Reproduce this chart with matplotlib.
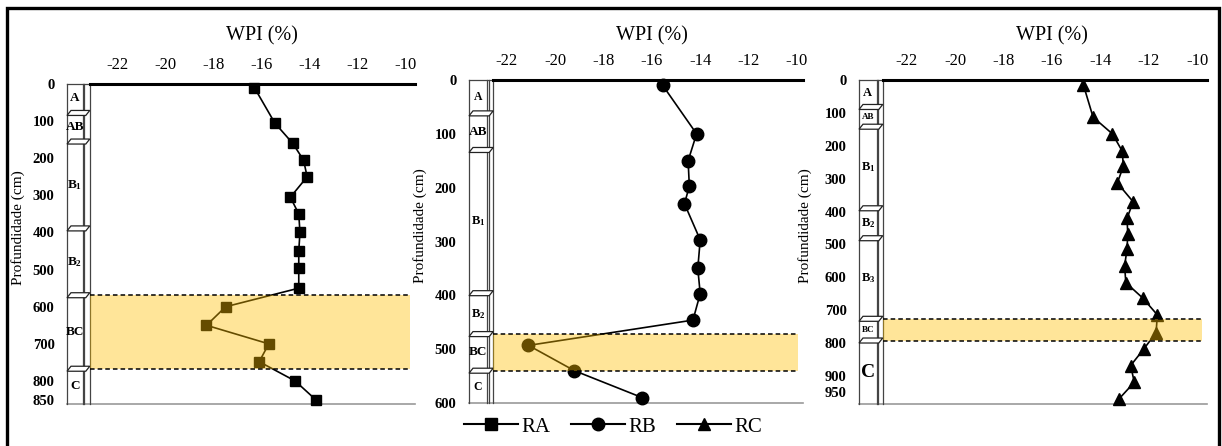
import matplotlib
matplotlib.use('Agg')
import matplotlib.pyplot as plt
import matplotlib.transforms as mtransforms
from matplotlib.patches import Polygon, Rectangle
from matplotlib.lines import Line2D

plt.rcParams['font.family'] = 'Liberation Serif'
plt.rcParams['mathtext.default'] = 'regular'
plt.rcParams['axes.unicode_minus'] = False

# WPI profiles (depth in cm, WPI in %)
ra_depth = [10, 105, 160, 205, 250, 305, 350, 400, 450, 495, 550, 600, 650, 700, 748, 800, 850]
ra_wpi = [-16.3, -15.45, -14.7, -14.25, -14.1, -14.8, -14.45, -14.4, -14.45, -14.45,
          -14.45, -17.5, -18.3, -15.7, -16.1, -14.6, -13.75]

rb_depth = [10, 100, 150, 197, 230, 297, 350, 397, 446, 493, 540, 590]
rb_wpi = [-15.55, -14.15, -14.5, -14.45, -14.65, -14.0, -14.1, -14.0, -14.3, -21.1, -19.2, -16.4]

rc_depth = [15, 113, 164, 216, 262, 313, 370, 421, 467, 514, 565, 616, 663, 714, 768,
            817, 868, 919, 971]
rc_wpi = [-14.7, -14.3, -13.5, -13.1, -13.05, -13.3, -12.65, -12.9, -12.87, -12.9, -13.0,
          -12.95, -12.25, -11.65, -11.7, -12.2, -12.75, -12.6, -13.25]

# soil horizons: boundaries (cm) and names
ra_bounds = [0, 78, 155, 389, 569, 767, 862]
ra_names = ['A', 'AB', 'B$_1$', 'B$_2$', 'BC', 'C']
rb_bounds = [0, 62, 130, 396, 472, 540, 600]
rb_names = ['A', 'AB', 'B$_1$', 'B$_2$', 'BC', 'C']
rc_bounds = [0, 82, 142, 390, 481, 726, 792, 985]
rc_names = ['A', 'AB', 'B$_1$', 'B$_2$', 'B$_3$', 'BC', 'C']

ra_yticks = [0, 100, 200, 300, 400, 500, 600, 700, 800, 850]
rb_yticks = [0, 100, 200, 300, 400, 500, 600]
rc_yticks = [0, 100, 200, 300, 400, 500, 600, 700, 800, 900, 950]
xticks = [-22, -20, -18, -16, -14, -12, -10]

W, H = 1222, 446
fig = plt.figure(figsize=(W / 100, H / 100), dpi=100)

# outer frame
fig.patches.append(Rectangle((7 / W, -0.05), (1219 - 7) / W, 1.05 - 8 / H,
                             transform=fig.transFigure, fill=False,
                             edgecolor='black', linewidth=2.4))

panels = [
    # px box (left, top, right, bottom), xlim, column edges, data, marker
    dict(box=(67, 84, 415, 404), xlim=(-24.12, -9.6), col=(-23.46, -23.17),
         depth=ra_depth, wpi=ra_wpi, marker='s', ms=6.5, label='RA',
         bounds=ra_bounds, names=ra_names, band=(4, 5), yticks=ra_yticks,
         fs=[9.5, 9.5, 9.5, 9.5, 9.5, 9.5], ylab_x=-0.12),
    dict(box=(469, 80, 803, 403), xlim=(-23.56, -9.75), col=(-22.81, -22.56),
         depth=rb_depth, wpi=rb_wpi, marker='o', ms=9, label='RB',
         bounds=rb_bounds, names=rb_names, band=(4, 5), yticks=rb_yticks,
         fs=[8.5, 9.5, 9, 9, 9.5, 8.5], ylab_x=-0.126),
    dict(box=(859, 80, 1207, 404), xlim=(-23.96, -9.6), col=(-23.23, -22.98),
         depth=rc_depth, wpi=rc_wpi, marker='^', ms=8.5, label='RC',
         bounds=rc_bounds, names=rc_names, band=(5, 6), yticks=rc_yticks,
         fs=[9, 6.5, 9, 9, 9, 6.5, 14], ylab_x=-0.136),
]

band_color = '#FFC000'
legend_handles = []

for p in panels:
    l, t, r, b = p['box']
    ax = fig.add_axes([l / W, 1 - b / H, (r - l) / W, (b - t) / H])
    x0, x1 = p['xlim']
    c1, c2 = p['col']
    bounds = p['bounds']
    ymax = bounds[-1]
    ax.set_xlim(x0, x1)
    ax.set_ylim(ymax, 0)
    px_per_cm = (b - t) / ymax
    px_per_x = (r - l) / (x1 - x0)

    for s in ax.spines.values():
        s.set_visible(False)

    ax.xaxis.tick_top()
    ax.set_xticks(xticks)
    ax.set_xticklabels([str(v) for v in xticks])
    ax.tick_params(axis='x', length=0, pad=8, labelsize=12)
    ax.set_yticks(p['yticks'])
    ax.set_yticklabels([str(v) for v in p['yticks']], fontweight='bold')
    ax.tick_params(axis='y', length=0, pad=9, labelsize=10.5)

    ax.set_ylabel('Profundidade (cm)', fontsize=11)
    ax.yaxis.set_label_coords(p['ylab_x'], 0.55)

    # axis title above the tick labels
    trans = mtransforms.blended_transform_factory(ax.transData, fig.transFigure)
    ax.text(-16, 1 - 36 / H, 'WPI (%)', transform=trans, ha='center', va='center',
            fontsize=14.5)

    # top and bottom lines
    ax.plot([c2, x1], [0, 0], color='black', lw=2.2, clip_on=False, zorder=5)
    ax.plot([x0, x1], [ymax, ymax], color='#9a9a9a', lw=1.2, clip_on=False, zorder=1)

    # horizon column
    for xv in (x0, c1, c1 + 0.06, c2):
        ax.plot([xv, xv], [0, ymax], color='#444444', lw=0.9, clip_on=False, zorder=3)
    ax.plot([x0, c2], [0, 0], color='#444444', lw=0.9, clip_on=False, zorder=3)
    plate_h = 5 / px_per_cm
    plate_s = 4 / px_per_x
    for yb in bounds[1:-1]:
        verts = [(x0, yb + plate_h / 2), (c2 - plate_s, yb + plate_h / 2),
                 (c2, yb - plate_h / 2), (x0 + plate_s, yb - plate_h / 2)]
        ax.add_patch(Polygon(verts, closed=True, facecolor='white', edgecolor='#222222',
                             lw=0.9, clip_on=False, zorder=4))
    for i, name in enumerate(p['names']):
        ym = (bounds[i] + bounds[i + 1]) / 2
        ax.text((x0 + c1) / 2, ym, name, ha='center', va='center', fontsize=p['fs'][i],
                fontweight='bold', zorder=6)

    # WPI profile
    ax.plot(p['wpi'], p['depth'], color='black', lw=1.2, marker=p['marker'],
            markersize=p['ms'], clip_on=False, zorder=4)
    legend_handles.append(Line2D([], [], color='black', lw=1.5, marker=p['marker'],
                                 markersize=9, label=p['label']))

    # shaded transition zone
    i0, i1 = p['band']
    ya, yb2 = bounds[i0], bounds[i1]
    fx = (c2 - x0) / (x1 - x0)
    ax.axhspan(ya, yb2, xmin=fx, xmax=0.985, color=band_color, alpha=0.4, lw=0, zorder=6)
    for yv in (ya, yb2):
        ax.plot([c2, x0 + 0.985 * (x1 - x0)], [yv, yv], color='black', lw=1.1,
                ls=(0, (3, 2)), zorder=7)

fig.legend(handles=legend_handles, loc='center', bbox_to_anchor=(613 / W, 1 - 427 / H),
           ncol=3, frameon=False, fontsize=15, handlelength=2.6, handletextpad=0.15,
           columnspacing=1.0)

fig.savefig('out.png', dpi=100)
